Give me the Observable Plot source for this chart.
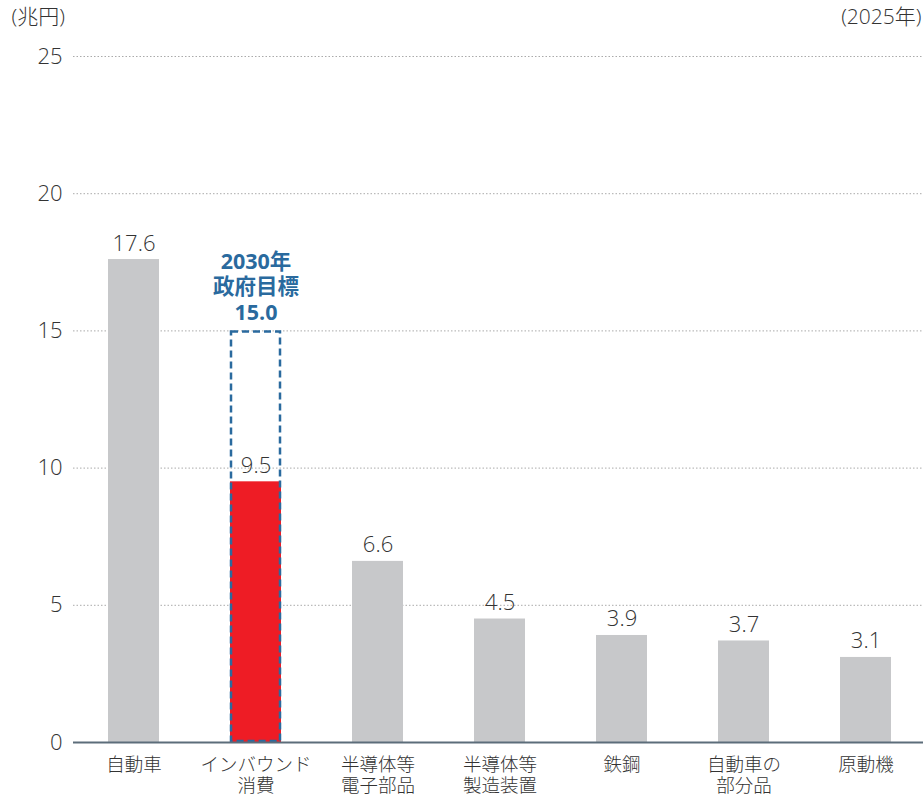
<!DOCTYPE html>
<html><head><meta charset="utf-8">
<script src="https://cdn.jsdelivr.net/npm/d3@7"></script>
<script src="https://cdn.jsdelivr.net/npm/@observablehq/plot@0.6"></script>
<style>
body{margin:0;background:#fff;}
</style></head>
<body><div id="chart"></div>
<script>
const categories = ["自動車","インバウンド\n消費","半導体等\n電子部品","半導体等\n製造装置","鉄鋼","自動車の\n部分品","原動機"];
const values = [17.6, 9.5, 6.6, 4.5, 3.9, 3.7, 3.1];
const highlight = "インバウンド\n消費";
const targetValue = 15.0;
const targetLabel = "2030年\n政府目標\n15.0";
const yTicks = [0, 5, 10, 15, 20, 25];
const unitLabel = "(兆円)";
const yearLabel = "(2025年)";

const data = categories.map((c, i) => ({cat: c, value: values[i], hl: c === highlight}));
const target = [{cat: highlight, value: targetValue, label: targetLabel}];
const FONT = '"Open Sans","Noto Sans CJK JP",sans-serif';

const chart = Plot.plot({
  width: 923, height: 796,
  marginLeft: 73, marginRight: 0, marginTop: 56, marginBottom: 54,
  style: {fontFamily: FONT, background: "#fff"},
  x: {domain: categories, range: [72, 926], paddingInner: 0.585, paddingOuter: 0.29, label: null},
  y: {domain: [0, 25], ticks: yTicks, label: null},
  marks: [
    Plot.gridY(yTicks.filter(d => d > 0), {stroke: "#aaa", strokeOpacity: 1, strokeDasharray: "1.5,2"}),
    Plot.axisY({ticks: yTicks, tickSize: 0, tickPadding: 11, fontSize: 22, fill: "#333", fontWeight: 300, label: null}),
    Plot.axisX({tickSize: 0, tickPadding: 14, fontSize: 18.5, fill: "#333", fontWeight: 300, lineHeight: 1.13, label: null}),
    Plot.barY(data.filter(d => !d.hl), {x: "cat", y: "value", fill: "#c7c8ca"}),
    Plot.barY(data.filter(d => d.hl), {x: "cat", y: "value", fill: "#ee1c25"}),
    Plot.barY(target, {x: "cat", y: "value", fill: "none", stroke: "#2a6a9e", strokeWidth: 2.5, strokeDasharray: "7,4", inset: 1}),
    Plot.ruleY([0], {stroke: "#5c6d7a", strokeWidth: 2}),
    Plot.text(data, {x: "cat", y: "value", text: d => d.value.toFixed(1), textAnchor: "middle", lineAnchor: "bottom", dy: -9, fontSize: 22, fill: "#333", fontWeight: 300}),
    Plot.text(target, {x: "cat", y: "value", text: "label", lineAnchor: "bottom", dy: -11, fontSize: 21.5, fontWeight: "bold", fill: "#2a6a9e", lineHeight: 1.19}),
    Plot.text([unitLabel], {frameAnchor: "top-left", dx: -62, dy: -47, fontSize: 21, fill: "#333", fontWeight: 300, textAnchor: "start"}),
    Plot.text([yearLabel], {frameAnchor: "top-right", dx: -2, dy: -47, fontSize: 21, fill: "#333", fontWeight: 300, textAnchor: "end"})
  ]
});
document.getElementById("chart").appendChild(chart);
</script></body></html>
